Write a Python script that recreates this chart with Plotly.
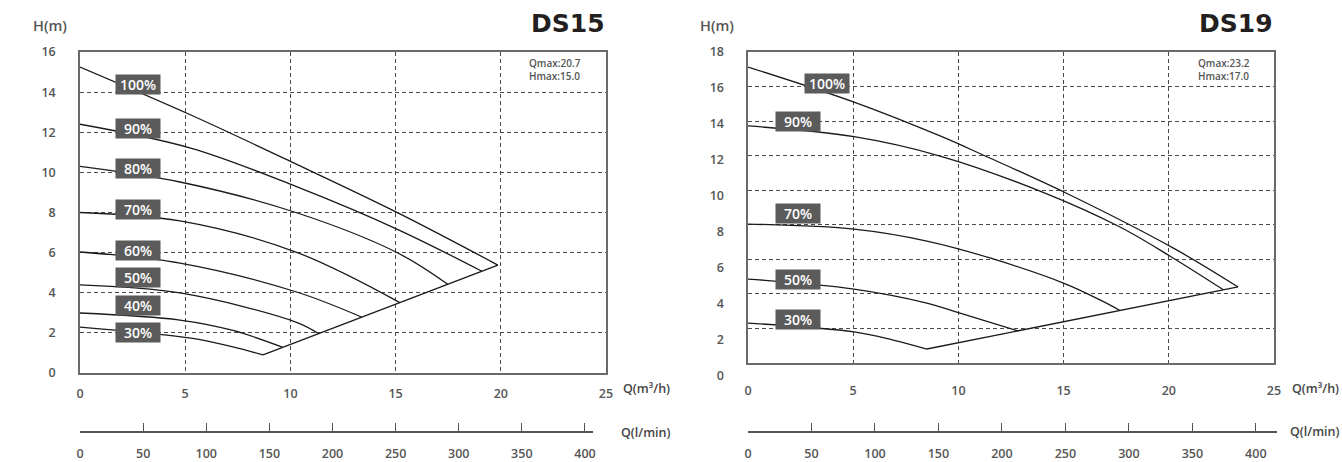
import plotly.graph_objects as go

W, H = 1342, 462

# ---------------- data ----------------
ds15_speeds = [100, 90, 80, 70, 60, 50, 40, 30]
ds15_q = {
    100: [0, 5.27, 10.3, 15.11, 19.86],
    90: [0, 5.3, 10.26, 15.11, 19.1],
    80: [0, 4.75, 10.26, 15.11, 17.48],
    70: [0, 4.75, 10.26, 15.2],
    60: [0, 4.75, 10.26, 13.4],
    50: [0, 4.75, 10.26, 11.35],
    40: [0, 4.75, 7.27, 9.64],
    30: [0, 5.27, 7.27, 8.7],
}
ds15_h = {
    100: [15.25, 12.86, 10.4, 7.98, 5.38],
    90: [12.4, 11.2, 9.3, 7.15, 5.07],
    80: [10.3, 9.52, 8.0, 5.98, 4.42],
    70: [8.0, 7.58, 6.03, 3.51],
    60: [6.03, 5.48, 4.05, 2.78],
    50: [4.39, 3.99, 2.54, 1.96],
    40: [2.99, 2.64, 2.12, 1.28],
    30: [2.29, 1.74, 1.3, 0.9],
}
ds15_label_q = [2.76, 2.76, 2.76, 2.76, 2.76, 2.76, 2.76, 2.76]
ds15_label_h = [14.4, 12.2, 10.17, 8.17, 6.13, 4.74, 3.34, 2.04]

ds19_speeds = [100, 90, 70, 50, 30]
ds19_q = {
    100: [0, 5.04, 9.13, 11.17, 15.11, 20.2, 23.29],
    90: [0, 5.04, 9.13, 13.88, 17.68, 20.2, 22.58],
    70: [0, 5.04, 8.5, 11.5, 15.11, 16.73, 17.68],
    50: [0, 5.04, 8.5, 10.08, 12.83],
    30: [0, 5.04, 6.9, 8.5],
}
ds19_h = {
    100: [17.13, 15.1, 13.14, 12.04, 9.84, 6.66, 4.4],
    90: [13.72, 13.1, 11.98, 9.95, 7.87, 6.08, 4.25],
    70: [8.04, 7.75, 7.06, 6.08, 4.57, 3.65, 3.04],
    50: [4.86, 4.28, 3.47, 2.89, 1.86],
    30: [2.31, 1.8, 1.33, 0.81],
}
ds19_label_q = [3.75, 2.38, 2.38, 2.38, 2.38]
ds19_label_h = [16.2, 13.95, 8.68, 4.86, 2.49]

q_ticks = [0, 5, 10, 15, 20, 25]
lmin_ticks = [0, 50, 100, 150, 200, 250, 300, 350, 400]
ds15_h_ticks = [0, 2, 4, 6, 8, 10, 12, 14, 16]
ds19_h_ticks = [0, 2, 4, 6, 8, 10, 12, 14, 16, 18]


def fx(px):
    return px / W


def fy(py):
    return 1 - py / H


FONT = "Open Sans"
TITLE_FONT = "DejaVu Sans"
LINE = "#1a1a1a"
GRID = "#4a4a4a"
BORDER = "#6a6a6a"
TICKC = "#555555"

fig = go.Figure()

# ---- curves ----
def add_chart(speeds, qd, hd, xa, ya):
    for s in speeds:
        fig.add_trace(go.Scatter(x=qd[s], y=hd[s], mode="lines", xaxis=xa, yaxis=ya,
                                 line=dict(color=LINE, width=1.3, shape="spline", smoothing=1.0),
                                 hoverinfo="skip", showlegend=False))
    ends = sorted([(qd[s][-1], hd[s][-1]) for s in speeds])
    fig.add_trace(go.Scatter(x=[e[0] for e in ends], y=[e[1] for e in ends], mode="lines",
                             xaxis=xa, yaxis=ya, line=dict(color=LINE, width=1.3),
                             hoverinfo="skip", showlegend=False))


add_chart(ds15_speeds, ds15_q, ds15_h, "x", "y")
add_chart(ds19_speeds, ds19_q, ds19_h, "x2", "y2")

# helper (empty) traces to create auxiliary axes
for xa, ya in [("x3", "y5"), ("x4", "y6"), ("x5", "y4")]:
    fig.add_trace(go.Scatter(x=[None], y=[None], xaxis=xa, yaxis=ya, mode="lines",
                             hoverinfo="skip", showlegend=False))

tickfont = dict(family=FONT, size=12.5, color=TICKC, weight=600)

main_x = dict(range=[0, 25], tickvals=q_ticks, showgrid=True, gridcolor=GRID, griddash="4px,3px",
              gridwidth=1, showline=True, mirror=True, linecolor=BORDER, linewidth=1.5,
              zeroline=False, ticks="", tickfont=tickfont, fixedrange=True, automargin=False)
main_y = dict(showgrid=True, gridcolor=GRID, griddash="4px,3px", gridwidth=1, showline=True,
              mirror=True, linecolor=BORDER, linewidth=1.5, zeroline=False, ticks="",
              tickfont=tickfont, fixedrange=True, automargin=False)

L_X0, L_X1 = 80, 606
R_X0, R_X1 = 748, 1274

lmin_axis = dict(tickvals=lmin_ticks, showgrid=False, zeroline=False, showline=True,
                 linecolor="#555", linewidth=1.5, ticks="inside", ticklen=8, tickwidth=1.3,
                 tickcolor="#555", tickfont=tickfont, ticklabelstandoff=10, fixedrange=True,
                 automargin=False)
hidden = dict(visible=False, fixedrange=True, automargin=False)

fig.update_layout(
    width=W, height=H, margin=dict(l=0, r=0, t=0, b=0, autoexpand=False),
    paper_bgcolor="white", plot_bgcolor="rgba(0,0,0,0)", showlegend=False,
    font=dict(family=FONT, color=TICKC),
    xaxis=dict(main_x, domain=[fx(L_X0), fx(L_X1)], anchor="y", ticklabelstandoff=8),
    yaxis=dict(main_y, domain=[fy(373), fy(52)], range=[0, 16], tickvals=ds15_h_ticks,
               anchor="x", ticklabelstandoff=20),
    xaxis2=dict(main_x, domain=[fx(R_X0), fx(R_X1)], anchor="y2", ticklabelstandoff=15),
    yaxis2=dict(main_y, domain=[fy(363), fy(52)], range=[0, 18], tickvals=ds19_h_ticks,
                showticklabels=False, anchor="x2"),
    # right chart tick labels axis
    xaxis5=dict(hidden, domain=[fx(R_X0), fx(R_X1)], range=[0, 25], anchor="y4"),
    yaxis4=dict(domain=[fy(376), fy(52)], range=[0, 18], tickvals=ds19_h_ticks, anchor="x5",
                showgrid=False, showline=False, zeroline=False, ticks="", tickfont=tickfont,
                ticklabelstandoff=23, fixedrange=True, automargin=False),
    # l/min axes
    xaxis3=dict(lmin_axis, domain=[fx(L_X0), fx(593)],
                range=[0, (593 - L_X0) / ((L_X1 - L_X0) / 25) * 60 / 3.6], anchor="y5"),
    yaxis5=dict(hidden, domain=[fy(431), fy(420)], range=[0, 1], anchor="x3"),
    xaxis4=dict(lmin_axis, domain=[fx(R_X0), fx(R_X1 + 3)], range=[0, 25 * 60 / 3.6], anchor="y6"),
    yaxis6=dict(hidden, domain=[fy(431), fy(420)], range=[0, 1], anchor="x4"),
)

ann = []
label_font = dict(family=FONT, size=14, color="white", weight=600)
for s, q, h in zip(ds15_speeds, ds15_label_q, ds15_label_h):
    ann.append(dict(x=q, y=h, xref="x", yref="y", text=f"{s}%", showarrow=False,
                    bgcolor="#5b5b5b", font=label_font, width=38, height=13, borderpad=3))
for s, q, h in zip(ds19_speeds, ds19_label_q, ds19_label_h):
    ann.append(dict(x=q, y=h, xref="x2", yref="y2", text=f"{s}%", showarrow=False,
                    bgcolor="#5b5b5b", font=label_font, width=38, height=13, borderpad=3))


def paper_text(text, x, y, size, xanchor="center", color="#555555", weight=600, align="left",
               family=FONT):
    ann.append(dict(x=fx(x), y=fy(y), xref="paper", yref="paper", text=text, showarrow=False,
                    xanchor=xanchor, yanchor="middle", align=align,
                    font=dict(family=family, size=size, color=color, weight=weight)))


# titles and axis names
paper_text("DS15", 607, 23, 25, xanchor="right", color="#231f20", weight=700, family=TITLE_FONT)
paper_text("DS19", 1275, 23, 25, xanchor="right", color="#231f20", weight=700, family=TITLE_FONT)
paper_text("H(m)", 50, 26, 14.5)
paper_text("H(m)", 717, 25, 14.5)
paper_text("Q(m³/h)", 646, 388, 12.5, color="#444444")
paper_text("Q(m³/h)", 1315, 388, 12.5, color="#444444")
paper_text("Q(l/min)", 646, 432, 12.5, color="#444444")
paper_text("Q(l/min)", 1315, 431, 12.5, color="#444444")
paper_text("Qmax:20.7<br>Hmax:15.0", 527, 70, 10, xanchor="left", weight=600)
paper_text("Qmax:23.2<br>Hmax:17.0", 1196, 69, 10, xanchor="left", weight=600)

fig.update_layout(annotations=ann)

fig.write_html("out.html", config={"displayModeBar": False},
               post_script="document.body.style.margin='0';document.body.style.overflow='hidden';")
